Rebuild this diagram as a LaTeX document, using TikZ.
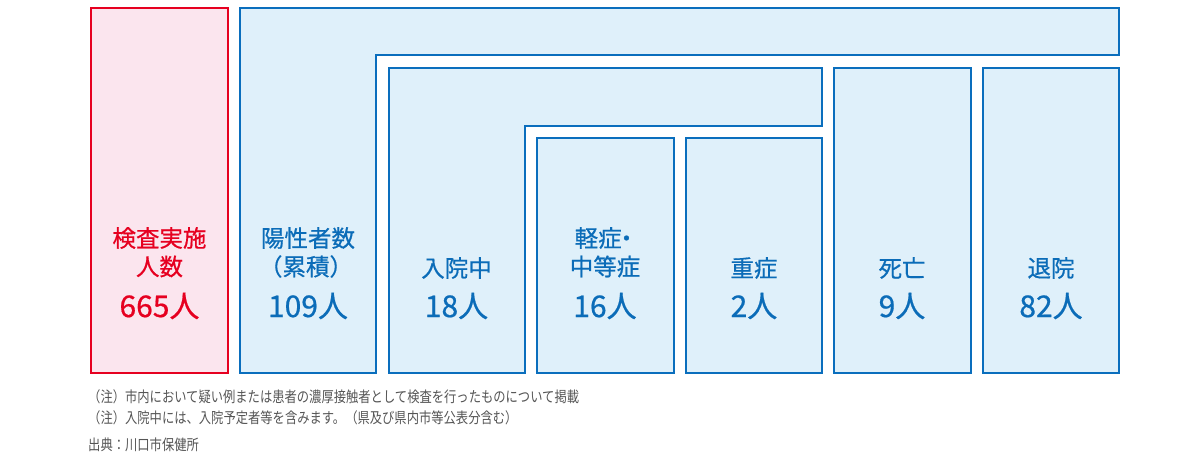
\documentclass[tikz,border=0pt]{standalone}
\usepackage{fontspec}
\setmainfont{Noto Sans CJK JP}
\newfontfamily\boxfont[FakeBold=0.6]{Noto Sans CJK JP}
\newfontfamily\notefont[FakeStretch=0.82]{Noto Sans CJK JP}
\definecolor{bl}{HTML}{0A6EBD}
\definecolor{bltext}{HTML}{0B6CB8}
\definecolor{blfill}{HTML}{DFF0FA}
\definecolor{rd}{HTML}{E60020}
\definecolor{rdfill}{HTML}{FBE5EE}
\definecolor{notegray}{HTML}{555555}
\tikzset{
  bluebox/.style={draw=bl, fill=blfill, line width=2pt, line join=miter},
  redbox/.style={draw=rd, fill=rdfill, line width=2pt, line join=miter},
  title/.style={inner sep=0pt, font=\boxfont\fontsize{23.5}{28}\selectfont, text=bltext, align=center},
  count/.style={inner sep=0pt, font=\boxfont\fontsize{30}{34}\selectfont, text=bltext},
  redtitle/.style={title, text=rd},
  redcount/.style={count, text=rd},
  note/.style={inner sep=0pt, anchor=west, font=\notefont\fontsize{15}{17}\selectfont, text=notegray}
}
\begin{document}
\begin{tikzpicture}[x=1pt,y=-1pt]
\useasboundingbox (0,0) rectangle (1185,460);
% boxes
\draw[redbox] (91,8.5) rectangle (228,372.5);
\draw[bluebox] (240,8.5) -- (1119,8.5) -- (1119,55.5) -- (376,55.5) -- (376,372.5) -- (240,372.5) -- cycle;
\draw[bluebox] (388.5,68) -- (822,68) -- (822,125.7) -- (525,125.7) -- (525,372.5) -- (388.5,372.5) -- cycle;
\draw[bluebox] (537,137.5) rectangle (673.5,372.5);
\draw[bluebox] (685.5,137.5) rectangle (822,372.5);
\draw[bluebox] (834,68) rectangle (970.5,372.5);
\draw[bluebox] (983,68) rectangle (1119,372.5);
% texts
\node[redtitle] (kensa1) at (159.5,238) {検査実施};
\node[redtitle] (kensa2) at (159.5,266.5) {人数};
\node[redcount] (kensan) at (159.5,306) {665人};
\node[title] (yousei1) at (308,238) {陽性者数};
\node[title] (yousei2) at (306,266.5) {（累積）};
\node[count] (youseim) at (308,306) {109人};
\node[title] (nyuin1) at (456.5,268) {入院中};
\node[count] (nyuinn) at (456.5,306) {18人};
\node[title, anchor=west] (kei1) at (574.5,238) {軽症\kern-7pt・};
\node[title] (kei2) at (605,266.5) {中等症};
\node[count] (kein) at (605,306) {16人};
\node[title] (ju1) at (754,268) {重症};
\node[count] (jun) at (754,306) {2人};
\node[title] (shi1) at (902,268) {死亡};
\node[count] (shin) at (902,306) {9人};
\node[title] (tai1) at (1051,268) {退院};
\node[count] (tain) at (1051,306) {82人};
% notes
\node[note] (note1) at (88,397) {（注）市内において疑い例または患者の濃厚接触者として検査を行ったものについて掲載};
\node[note] (note2) at (88,418) {（注）入院中には、入院予定者等を含みます。（県及び県内市等公表分含む）};
\node[note] (src) at (88,445) {出典：川口市保健所};
\end{tikzpicture}
\end{document}
